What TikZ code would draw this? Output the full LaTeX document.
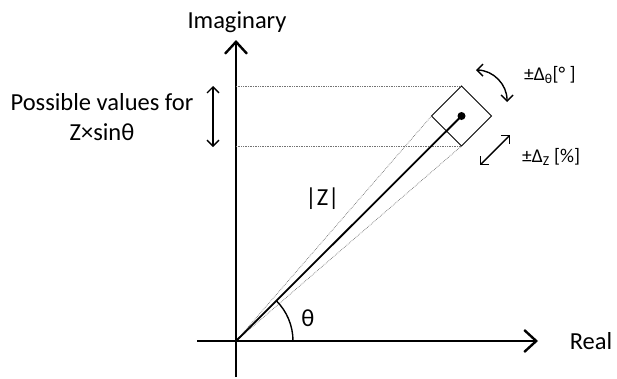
\documentclass[tikz,border=0pt]{standalone}
\usepackage{fontspec}
\setmainfont{Carlito}
\usetikzlibrary{arrows.meta}
\begin{document}
\begin{tikzpicture}[x=1pt,y=-1pt,
  axis/.style={line width=2.6pt, -{Straight Barb[length=12pt,width=22pt,line width=2.4pt]}},
  guide/.style={densely dotted, black!55, line width=0.7pt},
  lbl/.style={font=\fontsize{24.5}{30}\selectfont, inner sep=0pt},
  small/.style={font=\fontsize{19.5}{23}\selectfont, inner sep=0pt},
  dbl/.style={line width=1.4pt, {Straight Barb[length=6pt,width=12pt,line width=1.4pt]}-{Straight Barb[length=6pt,width=12pt,line width=1.4pt]}},
  pt/.style={circle, fill=black, inner sep=0pt, minimum size=8pt}]
\useasboundingbox (0,0) rectangle (617,378);
% axes
\coordinate (O) at (236,341);
\coordinate (xs) at (197,341);
\coordinate (xe) at (538,341);
\coordinate (ys) at (236,377);
\coordinate (ye) at (236,40);
\draw[axis] (xs) -- (xe);
\draw[axis] (ys) -- (ye);
\node[lbl] (imag) at (237,22) {Imaginary};
\node[lbl] (real) at (591,341) {Real};
% point and square
\node[pt] (P) at (461.5,116) {};
\coordinate (cT) at (461.5,86);
\coordinate (cR) at (491.5,116);
\coordinate (cB) at (461.5,146);
\coordinate (cL) at (431.5,116);
\draw[line width=0.8pt] (cT) -- (cR) -- (cB) -- (cL) -- cycle;
% guides
\coordinate (yT) at (236,86);
\coordinate (yB) at (236,146);
\draw[guide] (yT) -- (cT);
\draw[guide] (yB) -- (cB);
\draw[guide] (O) -- (cL);
\draw[guide] (O) -- (cB);
% radius
\draw[line width=1.8pt] (O) -- (P.center);
\node[lbl] (Z) at (322.5,199) {|Z|};
% angle
\draw[line width=1.4pt] (293,341) arc[start angle=0, end angle=-45, radius=57];
\node[lbl] (th) at (308,318) {θ};
% delta theta
\coordinate (a1) at (476,70);
\coordinate (a2) at (507,102);
\draw[dbl] (a1) to[bend left=45] (a2);
\node[small, anchor=west] (dth) at (524,75) {±Δ\textsubscript{θ}[° ]};
% delta Z
\coordinate (b1) at (480,165);
\coordinate (b2) at (510,135);
\draw[dbl] (b1) -- (b2);
\node[small, anchor=west] (dz) at (522,157) {±Δ\textsubscript{Z} [\%]};
% left
\coordinate (l1) at (213,86);
\coordinate (l2) at (213,147);
\draw[dbl] (l1) -- (l2);
\node[lbl, align=center] (pv) at (102,117) {Possible values for\\Z×sinθ};
\end{tikzpicture}
\end{document}
